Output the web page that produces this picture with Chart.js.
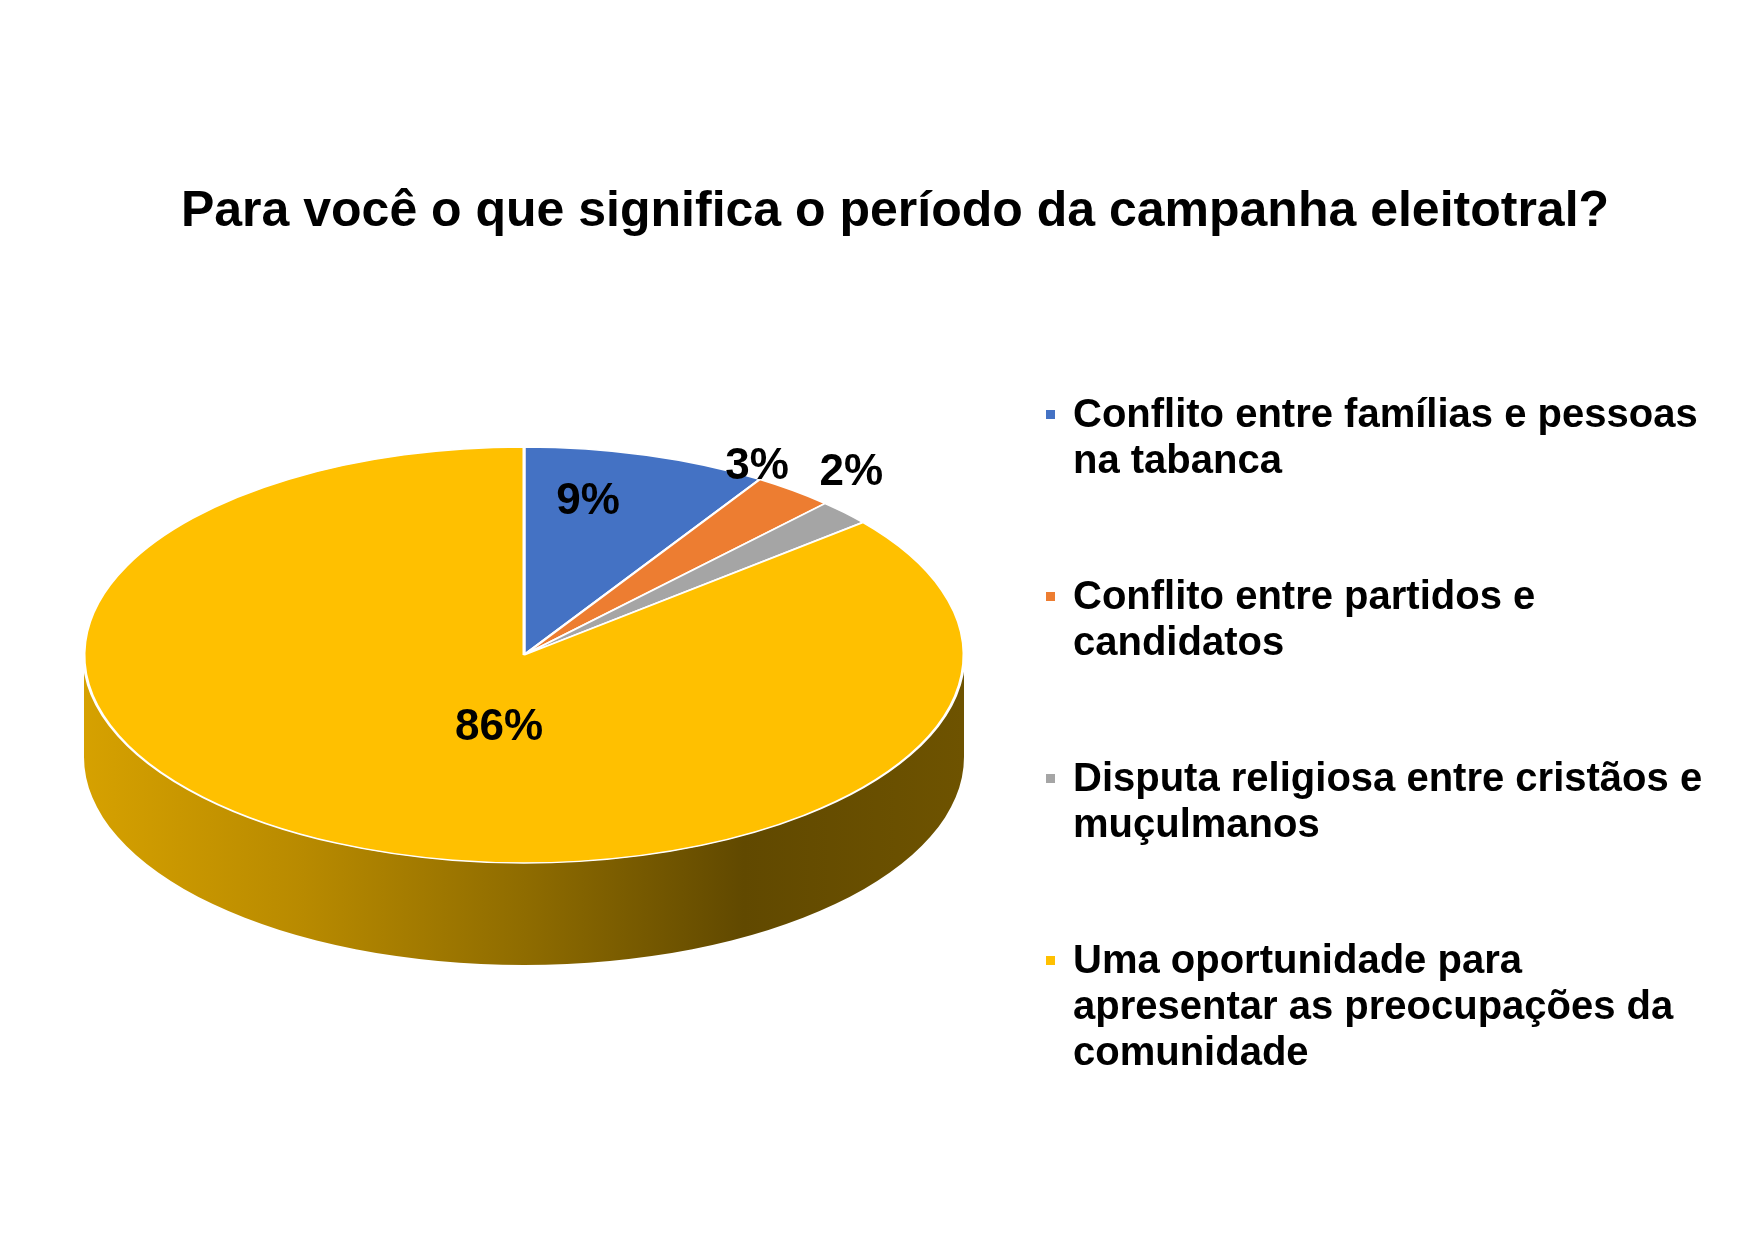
<!DOCTYPE html>
<html lang="pt">
<head>
<meta charset="utf-8">
<title>Campanha eleitoral</title>
<script src="https://cdn.jsdelivr.net/npm/chart.js@4.4.1/dist/chart.umd.min.js"></script>
<style>
  html, body { margin: 0; padding: 0; background: #fff; }
  #wrap { position: relative; width: 1749px; height: 1241px; }
  #legend {
    position: absolute; left: 1040px; top: 390px; width: 685px;
    list-style: none; margin: 0; padding: 0;
    font: bold 40px "Liberation Sans", Arial, sans-serif; line-height: 46px; color: #000;
  }
  #legend li { position: relative; padding-left: 33px; height: 182px; }
  #legend .box { position: absolute; left: 6px; top: 20px; width: 9px; height: 9px; }
</style>
</head>
<body>
<div id="wrap">
  <canvas id="pie" width="1749" height="1241"></canvas>
  <ul id="legend"></ul>
</div>
<script>
const chartTitle = 'Para você o que significa o período da campanha eleitotral?';
const categories = [
  'Conflito entre famílias e pessoas na tabanca',
  'Conflito entre partidos e candidatos',
  'Disputa religiosa entre cristãos e muçulmanos',
  'Uma oportunidade para apresentar as preocupações da comunidade'
];
const shares = [9, 3, 2, 86];
const sliceColors = ['#4472C4', '#ED7D31', '#A5A5A5', '#FFC000'];

// where the flattened pie sits on the page (top ellipse + side depth)
const disc = { cx: 524, cy: 655, rx: 440, ry: 208, depth: 102 };
// label placement, relative to each slice's middle
const labelRadius = [0.75, 1.05, 1.15, 0.355];
const labelTurn = [-5, -7.5, -6.5, -16];

const FONT = '"Liberation Sans", Arial, sans-serif';

function shade(hex, f) {
  const n = parseInt(hex.slice(1), 16);
  const r = Math.round(((n >> 16) & 255) * f);
  const g = Math.round(((n >> 8) & 255) * f);
  const b = Math.round((n & 255) * f);
  return `rgb(${r},${g},${b})`;
}

const pie3d = {
  id: 'pie3d',
  beforeDatasetsDraw(chart) {
    const ctx = chart.ctx;
    const arcs = chart.getDatasetMeta(0).data;
    const { cx, cy, rx, ry, depth } = disc;

    // side wall: only the front half of the rim is visible
    arcs.forEach((el, i) => {
      const a0 = Math.max(el.startAngle, 0);
      const a1 = Math.min(el.endAngle, Math.PI);
      if (a1 <= a0) return;
      const col = sliceColors[i];
      const grad = ctx.createLinearGradient(cx - rx, 0, cx + rx, 0);
      grad.addColorStop(0, shade(col, 0.84));
      grad.addColorStop(0.25, shade(col, 0.72));
      grad.addColorStop(0.5, shade(col, 0.56));
      grad.addColorStop(0.75, shade(col, 0.38));
      grad.addColorStop(1, shade(col, 0.43));
      ctx.beginPath();
      ctx.ellipse(cx, cy, rx, ry, 0, a0, a1, false);
      ctx.ellipse(cx, cy + depth, rx, ry, 0, a1, a0, true);
      ctx.closePath();
      ctx.fillStyle = grad;
      ctx.fill();
    });

    // squash the library's round pie into the top ellipse
    const R = arcs[0].outerRadius;
    ctx.save();
    ctx.translate(cx, cy);
    ctx.scale(rx / R, ry / R);
    ctx.translate(-arcs[0].x, -arcs[0].y);
  },
  afterDatasetsDraw(chart) {
    const ctx = chart.ctx;
    ctx.restore();
    const arcs = chart.getDatasetMeta(0).data;
    const { cx, cy, rx, ry } = disc;
    ctx.save();
    ctx.font = `bold 44px ${FONT}`;
    ctx.fillStyle = '#000';
    ctx.textAlign = 'center';
    ctx.textBaseline = 'middle';
    arcs.forEach((el, i) => {
      const mid = (el.startAngle + el.endAngle) / 2 + labelTurn[i] * Math.PI / 180;
      const x = cx + Math.cos(mid) * rx * labelRadius[i];
      const y = cy + Math.sin(mid) * ry * labelRadius[i];
      ctx.fillText(shares[i] + '%', x, y);
    });
    ctx.restore();
  }
};

const chart = new Chart(document.getElementById('pie'), {
  type: 'pie',
  data: {
    labels: categories,
    datasets: [{
      data: shares,
      backgroundColor: sliceColors,
      borderColor: '#fff',
      borderWidth: 3,
      clip: false
    }]
  },
  options: {
    responsive: false,
    animation: false,
    events: [],
    layout: { padding: { left: 41, right: 0, top: 0, bottom: 119 } },
    plugins: {
      legend: { display: false },
      tooltip: { enabled: false },
      title: {
        display: true,
        text: chartTitle,
        color: '#000',
        font: { family: FONT, size: 50, weight: 'bold' },
        padding: { top: 182, bottom: 0 }
      }
    }
  },
  plugins: [pie3d]
});

// html legend so the long labels can wrap like the original
const items = Chart.overrides.pie.plugins.legend.labels.generateLabels(chart);
const ul = document.getElementById('legend');
items.forEach(item => {
  const li = document.createElement('li');
  const box = document.createElement('span');
  box.className = 'box';
  box.style.background = item.fillStyle;
  li.appendChild(box);
  li.appendChild(document.createTextNode(item.text));
  ul.appendChild(li);
});
</script>
</body>
</html>
